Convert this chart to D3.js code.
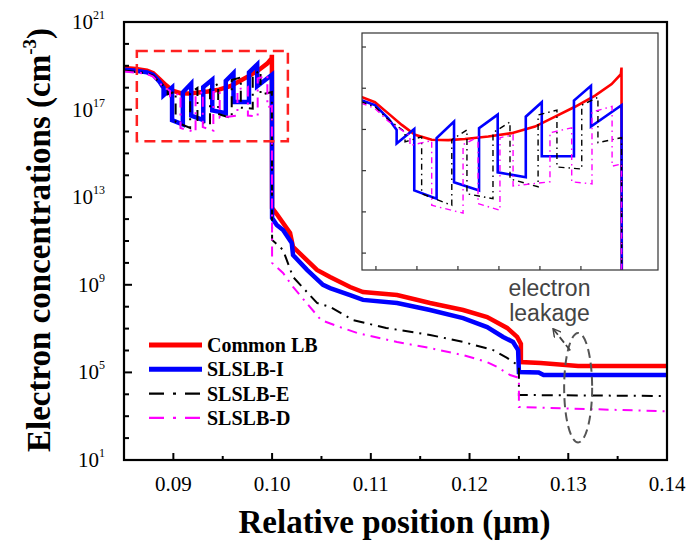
<!DOCTYPE html>
<html><head><meta charset="utf-8">
<script src="https://cdn.jsdelivr.net/npm/d3@7"></script>
<style>body{margin:0;background:#fff;} svg{display:block;}</style>
</head><body>
<svg id="c" width="690" height="542"></svg>
<script>
// ---------- DATA: [relative position (um), log10(electron concentration / cm^-3)] ----------
const seriesNames = ["Common LB", "SLSLB-I", "SLSLB-E", "SLSLB-D"];
const commonLB = [[0.0850,18.90],[0.0862,18.85],[0.08733,18.78],[0.08795,18.66],[0.08860,18.39],[0.08926,18.11],[0.08991,17.87],[0.09072,17.75],[0.09153,17.74],[0.09234,17.77],[0.09348,17.83],[0.09462,17.91],[0.09576,18.07],[0.09674,18.31],[0.09771,18.55],[0.09869,18.82],[0.09950,19.10],[0.09995,19.34],[0.09998,19.50],[0.1000,12.51],[0.10047,12.23],[0.10182,11.37],[0.10212,10.73],[0.10455,9.68],[0.10587,9.36],[0.10790,8.90],[0.10921,8.67],[0.11266,8.53],[0.11600,8.17],[0.11935,7.85],[0.12178,7.53],[0.12380,7.03],[0.12482,6.62],[0.12520,6.30],[0.12520,5.47],[0.1272,5.43],[0.1310,5.29],[0.1400,5.29]];
const slslbI = [[0.0850,18.82],[0.0862,18.77],[0.08733,18.70],[0.08795,18.59],[0.08860,18.27],[0.08901,17.99],[0.08901,17.66],[0.08987,18.01],[0.08987,16.52],[0.09096,16.32],[0.09096,17.79],[0.09181,18.19],[0.09181,16.72],[0.09303,16.52],[0.09303,18.03],[0.09394,18.36],[0.09394,16.96],[0.09531,16.84],[0.09531,18.31],[0.09609,18.66],[0.09609,17.35],[0.09766,17.35],[0.09766,18.70],[0.09849,19.06],[0.09849,18.07],[0.09998,18.59],[0.1000,12.05],[0.10047,11.73],[0.10111,11.50],[0.10199,10.91],[0.10212,10.36],[0.10354,9.68],[0.10516,9.00],[0.10587,8.85],[0.10790,8.53],[0.10921,8.31],[0.11266,8.17],[0.11600,7.85],[0.11935,7.48],[0.12178,7.07],[0.12340,6.62],[0.12441,6.39],[0.12492,6.02],[0.12500,5.02],[0.1270,5.00],[0.1275,4.88],[0.1400,4.88]];
const slslbE = [[0.0850,18.78],[0.0862,18.73],[0.08733,18.66],[0.08795,18.55],[0.08860,18.24],[0.08942,17.94],[0.08942,17.70],[0.09023,17.82],[0.09023,16.44],[0.09170,16.16],[0.09170,17.75],[0.09244,17.99],[0.09244,16.44],[0.09371,16.32],[0.09371,17.92],[0.09454,18.18],[0.09454,16.80],[0.09591,16.61],[0.09591,18.35],[0.09683,18.47],[0.09683,17.09],[0.09804,17.04],[0.09804,18.59],[0.09883,18.78],[0.09883,17.68],[0.09998,17.80],[0.1000,11.05],[0.10111,10.59],[0.10212,9.36],[0.10455,8.17],[0.10587,7.99],[0.10820,7.39],[0.11155,7.03],[0.11600,6.71],[0.11935,6.39],[0.12239,6.02],[0.12380,5.66],[0.12500,5.30],[0.12500,3.97],[0.1400,3.92]];
const slslbD = [[0.0850,18.74],[0.0862,18.69],[0.08733,18.63],[0.08795,18.51],[0.08860,18.20],[0.08966,17.85],[0.08966,17.61],[0.09072,17.73],[0.09072,16.16],[0.09225,15.97],[0.09225,17.63],[0.09298,17.82],[0.09298,16.20],[0.09405,16.04],[0.09405,17.80],[0.09469,17.87],[0.09469,16.63],[0.09649,16.73],[0.09649,17.92],[0.09755,18.04],[0.09755,16.73],[0.09854,16.68],[0.09854,18.42],[0.09952,18.56],[0.09952,17.11],[0.09998,17.16],[0.1000,10.00],[0.10111,9.54],[0.10212,8.90],[0.10496,7.39],[0.10688,7.07],[0.10861,6.80],[0.11266,6.39],[0.11600,6.11],[0.11935,5.79],[0.12178,5.47],[0.12279,5.25],[0.12411,4.88],[0.12500,4.75],[0.12500,3.42],[0.1400,3.22]];

const xTicks = [0.09, 0.10, 0.11, 0.12, 0.13, 0.14];
const xMinorTicks = [0.095, 0.105, 0.115, 0.125, 0.135];
const yTickExps = [1, 5, 9, 13, 17, 21];
const yMinorExps = [2,3,4,6,7,8,10,11,12,14,15,16,18,19,20];
const insetXTicks = [0.088, 0.090, 0.092, 0.094, 0.096, 0.098];
const insetYTickExps = [15, 16, 17, 18, 19, 20];
const annotationText = ["electron", "leakage"];

// ---------- LAYOUT / STYLE ----------
const svg = d3.select("#c");
const M = {l:124, r:667, t:22, b:460};
const x = d3.scaleLinear().domain([0.085, 0.140]).range([M.l, M.r]);
const y = d3.scaleLog().domain([1e1, 1e21]).range([M.b, M.t]);
const serif = "'Liberation Serif','Times New Roman',serif";
const sans = "'Liberation Sans',Arial,sans-serif";

const styles = [
  {color:"#ff0000", w:4.5, dash:null, iw:2.6},
  {color:"#0000ff", w:4.5, dash:null, iw:2.6},
  {color:"#000000", w:2.0, dash:"11,6,2,6", iw:1.4, idash:"6,4,1.5,4"},
  {color:"#ff00ff", w:2.0, dash:"10,6,2,6", iw:1.4, idash:"6,4,1.5,4"}
];
const allSeries = [commonLB, slslbI, slslbE, slslbD];

const defs = svg.append("defs");
defs.append("clipPath").attr("id","mainClip").append("rect")
  .attr("x",M.l).attr("y",M.t).attr("width",M.r-M.l).attr("height",M.b-M.t);

// main lines
const gLines = svg.append("g").attr("clip-path","url(#mainClip)");
const line = d3.line().x(d=>x(d[0])).y(d=>y(Math.pow(10,d[1])));
allSeries.forEach((s,i)=>{
  gLines.append("path").datum(s).attr("d",line)
    .attr("fill","none").attr("stroke",styles[i].color)
    .attr("stroke-width",styles[i].w)
    .attr("stroke-dasharray",styles[i].dash)
    .attr("stroke-linejoin","miter");
});

// zoom box (red dashed) in data coordinates
const zoomBox = {x0:0.0863, x1:0.1016, e0:15.55, e1:19.68};
svg.append("rect")
  .attr("x",x(zoomBox.x0)).attr("y",y(Math.pow(10,zoomBox.e1)))
  .attr("width",x(zoomBox.x1)-x(zoomBox.x0))
  .attr("height",y(Math.pow(10,zoomBox.e0))-y(Math.pow(10,zoomBox.e1)))
  .attr("fill","none").attr("stroke","#ff2020").attr("stroke-width",2.5)
  .attr("stroke-dasharray","11,6");

// frame
svg.append("rect").attr("x",M.l).attr("y",M.t).attr("width",M.r-M.l).attr("height",M.b-M.t)
  .attr("fill","none").attr("stroke","#000").attr("stroke-width",2.2);

// x ticks (inward)
const gx = svg.append("g");
xTicks.forEach(v=>{
  gx.append("line").attr("x1",x(v)).attr("x2",x(v)).attr("y1",M.b).attr("y2",M.b-7).attr("stroke","#000").attr("stroke-width",2);
  gx.append("text").attr("x",x(v)).attr("y",M.b+31).attr("text-anchor","middle")
    .style("font-family",serif).style("font-size","21px").text(d3.format(".2f")(v));
});
xMinorTicks.forEach(v=>{
  gx.append("line").attr("x1",x(v)).attr("x2",x(v)).attr("y1",M.b).attr("y2",M.b-4).attr("stroke","#000").attr("stroke-width",2);
});
// y ticks
const gy = svg.append("g");
yTickExps.forEach(e=>{
  const yy = y(Math.pow(10,e));
  gy.append("line").attr("x1",M.l).attr("x2",M.l+8).attr("y1",yy).attr("y2",yy).attr("stroke","#000").attr("stroke-width",2);
  const t = gy.append("text").attr("x",105).attr("y",yy+7).attr("text-anchor","end")
    .style("font-family",serif).style("font-size","21px");
  t.append("tspan").text("10");
  t.append("tspan").attr("dy",-10).style("font-size","12px").text(e);
});
yMinorExps.forEach(e=>{
  const yy = y(Math.pow(10,e));
  gy.append("line").attr("x1",M.l).attr("x2",M.l+5).attr("y1",yy).attr("y2",yy).attr("stroke","#000").attr("stroke-width",2);
});

// axis titles
svg.append("text").attr("x",(M.l+M.r)/2-1).attr("y",533).attr("text-anchor","middle")
  .style("font-family",serif).style("font-size","33px").style("font-weight","bold")
  .text("Relative position (\u03bcm)");
const yt = svg.append("text").attr("transform","translate(50,240) rotate(-90)").attr("text-anchor","middle")
  .style("font-family",serif).style("font-size","33px").style("font-weight","bold");
yt.append("tspan").text("Electron concentrations (cm");
yt.append("tspan").attr("dy",-14).style("font-size","19px").text("-3");
yt.append("tspan").attr("dy",14).text(")");

// legend
const lg = svg.append("g");
seriesNames.forEach((n,i)=>{
  const ly = 345 + i*24.3;
  lg.append("line").attr("x1",149).attr("x2",202).attr("y1",ly).attr("y2",ly)
    .attr("stroke",styles[i].color).attr("stroke-width",i<2?5:2.2)
    .attr("stroke-dasharray",i<2?null:"15,9,3,9");
  lg.append("text").attr("x",207).attr("y",ly+7)
    .style("font-family",serif).style("font-size","20px").style("font-weight","bold").text(n);
});

// electron leakage annotation (data coordinates)
const leak = {cx:0.1310, ce:4.3, e0:1.8, e1:6.8, rx:14, ax0:0.1302, ae0:6.0, ax1:0.12845, ae1:7.0, tx:0.1281, te:[8.5, 7.35]};
defs.append("marker").attr("id","arr").attr("viewBox","0 0 10 10").attr("refX",9).attr("refY",5)
  .attr("markerWidth",9).attr("markerHeight",9).attr("orient","auto").attr("markerUnits","userSpaceOnUse")
  .append("path").attr("d","M0,0 L9,5 L0,10").attr("fill","none").attr("stroke","#444").attr("stroke-width",1.6);
svg.append("ellipse").attr("cx",x(leak.cx)).attr("cy",y(Math.pow(10,leak.ce)))
  .attr("rx",leak.rx).attr("ry",(y(Math.pow(10,leak.e0))-y(Math.pow(10,leak.e1)))/2)
  .attr("fill","none").attr("stroke","#555").attr("stroke-width",2).attr("stroke-dasharray","9,5");
svg.append("line").attr("x1",x(leak.ax0)).attr("y1",y(Math.pow(10,leak.ae0)))
  .attr("x2",x(leak.ax1)).attr("y2",y(Math.pow(10,leak.ae1)))
  .attr("stroke","#444").attr("stroke-width",1.8).attr("stroke-dasharray","7,3").attr("marker-end","url(#arr)");
annotationText.forEach((t,i)=>{
  svg.append("text").attr("x",x(leak.tx)).attr("y",y(Math.pow(10,leak.te[i]))).attr("text-anchor","middle")
    .style("font-family",sans).style("font-size","23px").style("fill","#444").text(t);
});

// ---------- INSET ----------
const I = {l:362, r:658, t:33, b:270};
const xi = d3.scaleLinear().domain([0.08732, 0.10176]).range([I.l, I.r]);
const yi = d3.scaleLog().domain([Math.pow(10,14.59), Math.pow(10,20.34)]).range([I.b, I.t]);
defs.append("clipPath").attr("id","insetClip").append("rect")
  .attr("x",I.l).attr("y",I.t).attr("width",I.r-I.l).attr("height",I.b-I.t);
svg.append("rect").attr("x",I.l).attr("y",I.t).attr("width",I.r-I.l).attr("height",I.b-I.t).attr("fill","#fff");
const gi = svg.append("g").attr("clip-path","url(#insetClip)");
const lineI = d3.line().x(d=>xi(d[0])).y(d=>yi(Math.pow(10,d[1])));
allSeries.forEach((s,i)=>{
  gi.append("path").datum(s).attr("d",lineI)
    .attr("fill","none").attr("stroke",styles[i].color)
    .attr("stroke-width",styles[i].iw)
    .attr("stroke-dasharray",styles[i].idash||null);
});
svg.append("rect").attr("x",I.l).attr("y",I.t).attr("width",I.r-I.l).attr("height",I.b-I.t)
  .attr("fill","none").attr("stroke","#333").attr("stroke-width",1.2);
insetXTicks.forEach(v=>{
  svg.append("line").attr("x1",xi(v)).attr("x2",xi(v)).attr("y1",I.b).attr("y2",I.b-4).attr("stroke","#333").attr("stroke-width",1.2);
});
insetYTickExps.forEach(e=>{
  const yy = yi(Math.pow(10,e));
  svg.append("line").attr("x1",I.l).attr("x2",I.l+4).attr("y1",yy).attr("y2",yy).attr("stroke","#333").attr("stroke-width",1.2);
});
</script>
</body></html>
